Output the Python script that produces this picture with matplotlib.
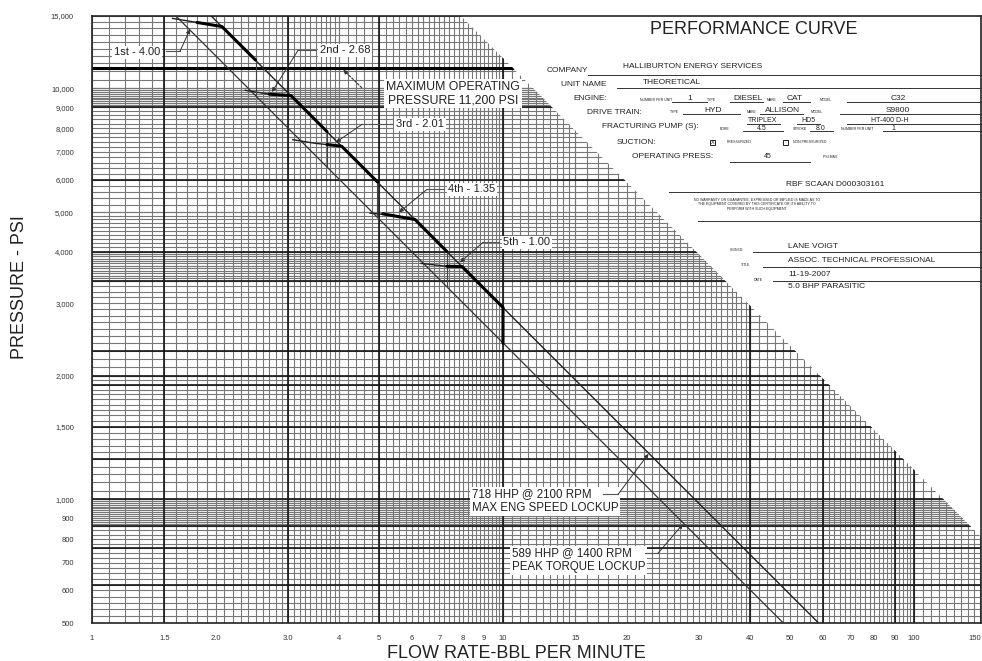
import numpy as np
import matplotlib.pyplot as plt
from matplotlib.patches import Polygon, Rectangle
from matplotlib.ticker import NullLocator

plt.rcParams['font.family'] = ['Liberation Sans', 'DejaVu Sans']

# ---- axis labels ----
x_ticks = [1, 1.5, 2, 3, 4, 5, 6, 7, 8, 9, 10, 15, 20, 30, 40, 50, 60, 70, 80, 90, 100]
x_tick_labels = ['1', '1.5', '2.0', '3.0', '4', '5', '6', '7', '8', '9', '10',
                 '15', '20', '30', '40', '50', '60', '70', '80', '90', '100']
y_ticks = [500, 600, 700, 800, 900, 1000, 1500, 2000, 3000, 4000, 5000,
           6000, 7000, 8000, 9000, 10000, 15000]
y_tick_labels = ['500', '600', '700', '800', '900', '1,000', '1,500', '2,000', '3,000',
                 '4,000', '5,000', '6,000', '7,000', '8,000', '9,000', '10,000', '15,000']

# ---- lockup lines (rate bpm, pressure psi) read at the chart edges ----
max_speed_rate = [1.95, 58.6]
max_speed_psi = [15000, 500]
peak_torque_rate = [1.60, 48.1]
peak_torque_psi = [15000, 500]

# ---- gear curves ----
gear_rate = [[1.57, 1.80, 2.07], [2.36, 2.68, 3.05], [3.08, 3.49, 4.05],
             [4.75, 5.40, 6.11], [6.32, 7.31, 7.95]]
gear_psi = [[14800, 14470, 14140], [9890, 9690, 9600], [7500, 7350, 7230],
            [4970, 4910, 4795], [3750, 3690, 3685]]

# upshift lines
shift_rate = [2.5, 3.73, 4.95, 7.3]
shift_psi_top = [11720, 7850, 5920, 4010]
shift_psi_bottom = [9610, 6440, 4855, 3290]

# bold operating envelope
env_rate = [[1.80, 2.07, 2.5], [2.70, 3.05, 3.73], [3.73, 4.05, 4.95],
            [5.10, 6.11, 7.3], [7.3, 7.95, 10.0, 10.0]]
env_psi = [[14470, 14140, 11720], [9680, 9600, 7850], [7300, 7230, 5920],
           [4950, 4795, 4010], [3690, 3685, 2930, 2400]]

max_press = 11200

# ---- graph paper ----
x_minor_ranges = [(1, 4, 0.1), (4, 10, 0.2), (10, 15, 0.5), (15, 40, 1), (40, 100, 2), (100, 150, 5)]
y_minor_ranges = [(500, 1000, 20), (860, 1000, 10), (1000, 2000, 50), (2000, 5000, 100),
                  (3400, 4000, 50), (5000, 10000, 200), (9000, 10000, 100), (10000, 15000, 500)]
x_heavy = [1.5, 3, 5, 10, 40, 60, 90, 100]
y_heavy = [620, 760, 860, 1000, 1250, 1500, 1900, 2000, 2300, 3400, 4000, 6000, 9000, 11200]
paper_edge_rate = [7.9, 145.6]
paper_edge_psi = [15000, 810]

XMIN, XMAX, YMIN, YMAX = 1, 145.6, 500, 15000

fig = plt.figure(figsize=(9.82, 6.61), dpi=100)
ax = fig.add_axes([92/982, 1-623/661, 889/982, 607/661])
ax.set_xscale('log')
ax.set_yscale('log')
ax.set_xlim(XMIN, XMAX)
ax.set_ylim(YMIN, YMAX)

clip = Polygon([(XMIN, YMIN), (XMIN, YMAX), (paper_edge_rate[0], paper_edge_psi[0]),
                (paper_edge_rate[1], paper_edge_psi[1]), (XMAX, YMIN)],
               closed=True, transform=ax.transData, facecolor='none', edgecolor='none')
ax.add_patch(clip)

xs = np.concatenate([np.arange(a, b + 1e-9, s) for a, b, s in x_minor_ranges])
ys = np.concatenate([np.arange(a, b + 1e-9, s) for a, b, s in y_minor_ranges])
g1 = ax.vlines(xs, YMIN, YMAX, colors='#777777', lw=0.8, zorder=1)
g2 = ax.hlines(ys, XMIN, XMAX, colors='#777777', lw=0.8, zorder=1)
g3 = ax.vlines(x_heavy, YMIN, YMAX, colors='#151515', lw=1.2, zorder=1.5)
g4 = ax.hlines(y_heavy, XMIN, XMAX, colors='#151515', lw=1.2, zorder=1.5)
ax.hlines([max_press], XMIN, XMAX, colors='#000000', lw=2.2, zorder=1.6).set_clip_path(clip)
for g in (g1, g2, g3, g4):
    g.set_clip_path(clip)

# lockup lines
ax.plot(max_speed_rate, max_speed_psi, color='#222222', lw=1.0, zorder=3)
ax.plot(peak_torque_rate, peak_torque_psi, color='#333333', lw=0.9, zorder=3)

for r, p in zip(gear_rate, gear_psi):
    ax.plot(r, p, color='#222222', lw=1.0, zorder=3)
for r, top, bot in zip(shift_rate, shift_psi_top, shift_psi_bottom):
    ax.plot([r, r], [top, bot], color='#444444', lw=0.8, zorder=3)
for r, p in zip(env_rate, env_psi):
    ax.plot(r, p, color='#000000', lw=2.2, zorder=4, solid_capstyle='round')

# labels and leaders
box = dict(boxstyle='square,pad=0.15', fc='white', ec='none')
labels = [
    ('1st - 4.00', 1.287, 12235, 'center'),
    ('2nd - 2.68', 4.127, 12375, 'center'),
    ('3rd - 2.01', 6.281, 8174, 'center'),
    ('4th - 1.35', 8.408, 5679, 'center'),
    ('5th - 1.00', 11.44, 4220, 'center'),
]
for t, x, y, ha in labels:
    ax.text(x, y, t, fontsize=8, ha=ha, va='center', bbox=box, zorder=5, color='#222222')
ax.text(7.556, 9723, 'MAXIMUM OPERATING\nPRESSURE 11,200 PSI', fontsize=8.8, ha='center',
        va='center', linespacing=1.15, bbox=box, zorder=5, color='#222222')
ax.text(8.408, 989, '718 HHP @ 2100 RPM\nMAX ENG SPEED LOCKUP', fontsize=8.3, ha='left',
        va='center', linespacing=1.2, bbox=box, zorder=5, color='#222222')
ax.text(10.52, 711, '589 HHP @ 1400 RPM\nPEAK TORQUE LOCKUP', fontsize=8.3, ha='left',
        va='center', linespacing=1.2, bbox=box, zorder=5, color='#222222')

leaders = [
    ([1.514, 1.637], [12303, 12303], (1.731, 13918)),
    ([3.508, 3.172], [12375, 12375], (2.741, 9800)),
    ([5.37, 4.539], [8174, 8174], (3.924, 7390)),
    ([7.185, 6.534], [5679, 5679], (5.585, 4992)),
    ([9.779, 8.94], [4220, 4220], (7.861, 3772)),
    ([17.51, 19.05], [1028, 1028], (22.6, 1290)),
    ([22.16, 23.83], [739, 739], (27.4, 870)),
]
for lx, ly, tip in leaders:
    ax.plot(lx, ly, color='#555555', lw=0.8, zorder=5)
    ax.annotate('', xy=tip, xytext=(lx[-1], ly[-1]),
                arrowprops=dict(arrowstyle='-|>', color='#333333', lw=0.7,
                                mutation_scale=6, shrinkA=0, shrinkB=0), zorder=5)
ax.annotate('', xy=(4.087, 11100), xytext=(4.531, 10039),
            arrowprops=dict(arrowstyle='-|>', color='#333333', lw=0.8, ls=(0, (2, 1.5)),
                            mutation_scale=6, shrinkA=0, shrinkB=0), zorder=5)

ax.xaxis.set_minor_locator(NullLocator())
ax.yaxis.set_minor_locator(NullLocator())
ax.set_xticks(x_ticks, x_tick_labels)
ax.set_yticks(y_ticks, y_tick_labels)
ax.tick_params(length=0, labelsize=5.5, labelcolor='#333333')
ax.tick_params(axis='x', pad=8.3)
ax.tick_params(axis='y', pad=13)
ax.text(1.0, -15/607, '150', transform=ax.transAxes, ha='right', va='center',
        fontsize=5.5, color='#333333', clip_on=False)
for s in ax.spines.values():
    s.set_linewidth(1.2)
    s.set_color('#222222')

fig.text(20/982, 1-287/661, 'PRESSURE - PSI', rotation=90, fontsize=13, ha='center', va='center', color='#222222')
fig.text(516/982, 1-653/661, 'FLOW RATE-BBL PER MINUTE', fontsize=13, ha='center', va='center', color='#222222')

# ---- data sheet (pixel coordinates) ----
ov = fig.add_axes([0, 0, 1, 1])
ov.set_xlim(0, 982)
ov.set_ylim(661, 0)
ov.axis('off')
ov.patch.set_alpha(0)

form_lines = [(588, 981, 75), (617, 981, 88), (672, 707, 102), (730, 763, 102), (783, 810, 102),
              (847, 981, 102), (683, 740, 114), (760, 803, 114), (840, 981, 114),
              (747, 780, 124), (797, 820, 124), (847, 981, 124), (743, 783, 131), (810, 833, 131),
              (883, 981, 131), (730, 810, 162), (669, 981, 192), (698, 981, 221),
              (753, 981, 252), (763, 981, 267), (773, 981, 281)]
for x0, x1, y in form_lines:
    ov.plot([x0, x1], [y, y], color='#333333', lw=0.7)

ov.text(650, 30, 'PERFORMANCE CURVE', fontsize=13, ha='left', va='center', color='#222222')
form_text = [
    (588, 71, 'COMPANY', 6, 'right'), (623, 67, 'HALLIBURTON ENERGY SERVICES', 6, 'left'),
    (607, 85, 'UNIT NAME', 6, 'right'), (643, 82, 'THEORETICAL', 6, 'left'),
    (607, 99, 'ENGINE:', 6, 'right'), (640, 100, 'NUMBER PER UNIT', 2.5, 'left'),
    (690, 98, '1', 6, 'center'), (712, 100, 'TYPE', 2.5, 'center'), (748, 98, 'DIESEL', 6, 'center'),
    (772, 100, 'MAKE', 2.5, 'center'), (795, 98, 'CAT', 6, 'center'), (826, 100, 'MODEL', 2.5, 'center'),
    (898, 98, 'C32', 6, 'center'),
    (587, 112, 'DRIVE TRAIN:', 6, 'left'), (675, 112, 'TYPE', 2.5, 'center'),
    (713, 110, 'HYD', 6, 'center'), (752, 112, 'MAKE', 2.5, 'center'), (782, 110, 'ALLISON', 6, 'center'),
    (817, 112, 'MODEL', 2.5, 'center'), (898, 110, 'S9800', 6, 'center'),
    (602, 127, 'FRACTURING PUMP (S):', 6, 'left'), (763, 121, 'TRIPLEX', 5, 'center'),
    (808, 121, 'HD5', 5, 'center'), (890, 121, 'HT-400 D-H', 5, 'center'),
    (725, 129, 'BORE', 2.5, 'center'), (762, 128.5, '4.5', 5, 'center'), (800, 129, 'STROKE', 2.5, 'center'),
    (821, 128.5, '8.0', 5, 'center'), (857, 129, 'NUMBER PER UNIT', 2.5, 'center'), (893, 128.5, '1', 5, 'center'),
    (617, 142, 'SUCTION:', 6, 'left'), (727, 142, 'PRESSURIZED', 2.5, 'left'),
    (793, 142, 'NON PRESSURIZED', 2.5, 'left'),
    (632, 157, 'OPERATING PRESS:', 6, 'left'), (768, 156, '45', 5, 'center'), (823, 157, 'PSI MAX', 2.5, 'left'),
    (835, 184, 'RBF SCAAN D000303161', 6, 'center'),
    (757, 200, 'NO WARRANTY OR GUARANTEE, EXPRESSED OR IMPLIED IS MADE AS TO', 2.5, 'center'),
    (757, 204.5, 'THE EQUIPMENT COVERED BY THIS CERTIFICATE OR ITS ABILITY TO', 2.5, 'center'),
    (757, 209, 'PERFORM WITH SUCH EQUIPMENT', 2.5, 'center'),
    (743, 250, 'SIGNED', 2.5, 'right'), (788, 246, 'LANE VOIGT', 6, 'left'),
    (750, 265, 'TITLE', 2.5, 'right'), (788, 260, 'ASSOC. TECHNICAL PROFESSIONAL', 6, 'left'),
    (763, 280, 'DATE', 2.5, 'right'), (788, 275, '11-19-2007', 6, 'left'),
    (788, 287, '5.0 BHP PARASITIC', 6, 'left'),
]
for x, y, t, fs, ha in form_text:
    ov.text(x, y, t, fontsize=fs, ha=ha, va='center', color='#222222')
ov.add_patch(Rectangle((710, 139.5), 5, 5, fill=False, lw=0.7, ec='#222222'))
ov.text(712.5, 142, 'X', fontsize=4, ha='center', va='center', color='#222222')
ov.add_patch(Rectangle((783, 139.5), 5, 5, fill=False, lw=0.7, ec='#222222'))

fig.savefig('out.png', dpi=100)
